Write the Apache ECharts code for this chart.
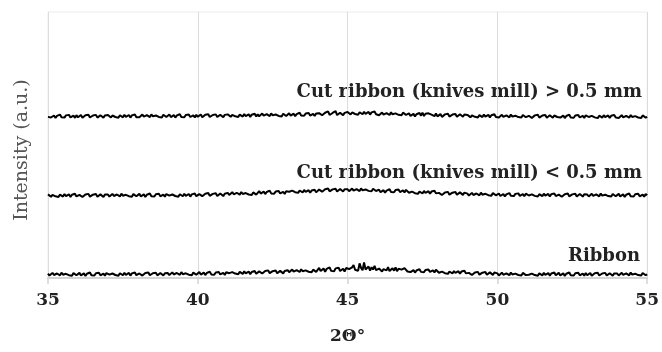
<!DOCTYPE html>
<html>
<head>
<meta charset="utf-8">
<script src="https://cdn.jsdelivr.net/npm/echarts@6/dist/echarts.min.js"></script>
<style>html,body{margin:0;padding:0;background:#fff}#c{width:662px;height:352px}</style>
</head>
<body>
<div id="c"></div>
<script>
// 2θ sampling (35 to 55, step 0.05)
const startAngle = 35, stepAngle = 0.05, nPoints = 401;
const xTicks = [35, 40, 45, 50, 55];
const seriesNames = ['Ribbon', 'Cut ribbon (knives mill) < 0.5 mm', 'Cut ribbon (knives mill) > 0.5 mm'];
const yTitle = 'Intensity (a.u.)';
const xTitle = '2\u0398\u00b0';

// Intensity (a.u., offset traces); one row per degree
const ribbon = [
4.4,2.4,3.9,5.1,3.0,2.2,4.5,3.7,2.6,5.3,3.3,2.1,4.2,4.7,2.8,4.0,2.3,4.9,3.5,2.7,
3.2,5.1,2.6,3.9,4.6,2.1,4.2,3.5,5.5,2.8,4.0,2.5,4.7,3.3,5.2,2.7,3.8,4.4,2.3,4.9,
4.9,3.4,2.5,4.5,5.4,3.0,4.0,2.3,4.7,4.2,2.7,5.2,3.2,3.7,5.0,2.4,4.6,3.1,5.5,2.8,
2.9,4.5,5.2,2.4,4.1,4.9,3.2,5.5,2.7,4.0,4.7,3.0,5.3,2.6,4.4,5.0,3.7,2.5,4.8,4.2,
4.9,2.9,4.4,5.6,3.5,2.7,5.0,4.2,3.1,5.8,3.8,2.6,4.7,5.2,3.3,4.5,2.8,5.4,4.0,3.2,
4.0,5.9,3.4,4.7,5.4,2.9,5.0,4.3,6.3,3.6,4.8,3.3,5.5,4.1,6.0,3.5,4.6,5.2,3.1,5.7,
6.3,4.8,3.9,5.9,6.8,4.4,5.4,3.7,6.1,5.6,4.1,6.6,4.6,5.1,6.4,3.8,6.0,4.5,6.9,4.2,
5.0,6.6,7.3,4.5,6.2,7.0,5.3,7.6,4.8,6.1,6.8,5.1,7.4,4.7,6.5,7.1,5.8,4.6,6.9,6.3,
7.8,5.8,7.3,8.5,6.4,5.6,7.9,7.1,6.0,8.7,6.7,5.5,7.6,8.1,6.2,7.4,5.7,8.3,6.9,6.1,
7.7,10.1,6.9,8.6,9.5,6.2,9.0,8.0,10.6,7.1,8.7,6.7,9.6,7.8,10.3,7.0,8.4,9.2,6.5,9.9,
11.3,8.9,7.4,10.6,13.0,8.2,9.8,7.1,14.5,10.1,7.7,15.5,8.5,9.3,11.4,7.3,10.8,8.4,12.2,7.9,
7.2,9.4,10.4,6.5,8.9,10.0,7.6,10.8,6.9,8.7,9.7,7.3,10.6,6.8,9.3,10.1,8.3,6.6,9.9,9.0,
6.5,8.4,5.9,7.2,7.9,5.4,7.5,6.8,8.8,6.1,7.3,5.8,8.0,6.6,8.5,6.0,7.1,7.7,5.6,8.2,
6.7,5.2,4.3,6.3,7.2,4.8,5.8,4.1,6.5,6.0,4.5,7.0,5.0,5.5,6.8,4.2,6.4,4.9,7.3,4.6,
3.5,5.1,5.8,3.0,4.7,5.5,3.8,6.1,3.3,4.6,5.3,3.6,5.9,3.2,5.0,5.6,4.3,3.1,5.4,4.8,
4.6,2.6,4.1,5.3,3.2,2.4,4.7,3.9,2.8,5.5,3.5,2.3,4.4,4.9,3.0,4.2,2.5,5.1,3.7,2.9,
4.8,3.3,2.4,4.4,5.3,2.9,3.9,2.2,4.6,4.1,2.6,5.1,3.1,3.6,4.9,2.3,4.5,3.0,5.4,2.7,
3.2,5.1,2.6,3.9,4.6,2.1,4.2,3.5,5.5,2.8,4.0,2.5,4.7,3.3,5.2,2.7,3.8,4.4,2.3,4.9,
2.7,4.3,5.0,2.2,3.9,4.7,3.0,5.3,2.5,3.8,4.5,2.8,5.1,2.4,4.2,4.8,3.5,2.3,4.6,4.0,
4.5,2.5,4.0,5.2,3.1,2.3,4.6,3.8,2.7,5.4,3.4,2.2,4.3,4.8,2.9,4.1,2.4,5.0,3.6,2.8,
3.6];

const cutFine = [
83.3,81.8,80.9,82.9,83.8,81.4,82.4,80.7,83.1,82.6,81.1,83.6,81.6,82.1,83.4,80.8,83.0,81.5,83.9,81.2,
81.2,82.8,83.5,80.7,82.4,83.2,81.5,83.8,81.0,82.3,83.0,81.3,83.6,80.9,82.7,83.3,82.0,80.8,83.1,82.5,
83.1,81.1,82.6,83.8,81.7,80.9,83.2,82.4,81.3,84.0,82.0,80.8,82.9,83.4,81.5,82.7,81.0,83.6,82.2,81.4,
81.9,83.8,81.3,82.6,83.3,80.8,82.9,82.2,84.2,81.5,82.7,81.2,83.4,82.0,83.9,81.4,82.5,83.1,81.0,83.6,
83.6,82.1,81.2,83.2,84.1,81.7,82.7,81.0,83.4,82.9,81.4,83.9,81.9,82.4,83.7,81.1,83.3,81.8,84.2,81.5,
82.0,83.6,84.3,81.5,83.2,84.0,82.3,84.6,81.8,83.1,83.8,82.1,84.4,81.7,83.5,84.1,82.8,81.6,83.9,83.3,
84.8,82.8,84.3,85.5,83.4,82.6,84.9,84.1,83.0,85.7,83.7,82.5,84.6,85.1,83.2,84.4,82.7,85.3,83.9,83.1,
84.7,86.6,84.1,85.4,86.1,83.6,85.7,85.0,87.0,84.3,85.5,84.0,86.2,84.8,86.7,84.2,85.3,85.9,83.8,86.4,
87.4,85.9,85.0,87.0,87.9,85.5,86.5,84.8,87.2,86.7,85.2,87.7,85.7,86.2,87.5,84.9,87.1,85.6,88.0,85.3,
86.5,88.1,88.8,86.0,87.7,88.5,86.8,89.1,86.3,87.6,88.3,86.6,88.9,86.2,88.0,88.6,87.3,86.1,88.4,87.8,
88.4,86.4,87.9,89.1,87.0,86.2,88.5,87.7,86.6,89.3,87.3,86.1,88.2,88.7,86.8,88.0,86.3,88.9,87.5,86.7,
86.1,88.0,85.5,86.8,87.5,85.0,87.1,86.4,88.4,85.7,86.9,85.4,87.6,86.2,88.1,85.6,86.7,87.3,85.2,87.8,
86.4,84.9,84.0,86.0,86.9,84.5,85.5,83.8,86.2,85.7,84.2,86.7,84.7,85.2,86.5,83.9,86.1,84.6,87.0,84.3,
83.2,84.8,85.5,82.7,84.4,85.2,83.5,85.8,83.0,84.3,85.0,83.3,85.6,82.9,84.7,85.3,84.0,82.8,85.1,84.5,
84.1,82.1,83.6,84.8,82.7,81.9,84.2,83.4,82.3,85.0,83.0,81.8,83.9,84.4,82.5,83.7,82.0,84.6,83.2,82.4,
82.3,84.2,81.7,83.0,83.7,81.2,83.3,82.6,84.6,81.9,83.1,81.6,83.8,82.4,84.3,81.8,82.9,83.5,81.4,84.0,
83.7,82.2,81.3,83.3,84.2,81.8,82.8,81.1,83.5,83.0,81.5,84.0,82.0,82.5,83.8,81.2,83.4,81.9,84.3,81.6,
81.5,83.1,83.8,81.0,82.7,83.5,81.8,84.1,81.3,82.6,83.3,81.6,83.9,81.2,83.0,83.6,82.3,81.1,83.4,82.8,
83.2,81.2,82.7,83.9,81.8,81.0,83.3,82.5,81.4,84.1,82.1,80.9,83.0,83.5,81.6,82.8,81.1,83.7,82.3,81.5,
81.9,83.8,81.3,82.6,83.3,80.8,82.9,82.2,84.2,81.5,82.7,81.2,83.4,82.0,83.9,81.4,82.5,83.1,81.0,83.6,
82.4];

const cutCoarse = [
160.5,162.4,159.9,161.2,161.9,159.4,161.5,160.8,162.8,160.1,161.3,159.8,162.0,160.6,162.5,160.0,161.1,161.7,159.6,162.2,
160.1,161.7,162.4,159.6,161.3,162.1,160.4,162.7,159.9,161.2,161.9,160.2,162.5,159.8,161.6,162.2,160.9,159.7,162.0,161.4,
162.3,160.8,159.9,161.9,162.8,160.4,161.4,159.7,162.1,161.6,160.1,162.6,160.6,161.1,162.4,159.8,162.0,160.5,162.9,160.2,
162.1,160.1,161.6,162.8,160.7,159.9,162.2,161.4,160.3,163.0,161.0,159.8,161.9,162.4,160.5,161.7,160.0,162.6,161.2,160.4,
160.9,162.8,160.3,161.6,162.3,159.8,161.9,161.2,163.2,160.5,161.7,160.2,162.4,161.0,162.9,160.4,161.5,162.1,160.0,162.6,
160.6,162.2,162.9,160.1,161.8,162.6,160.9,163.2,160.4,161.7,162.4,160.7,163.0,160.3,162.1,162.7,161.4,160.2,162.5,161.9,
163.0,161.5,160.6,162.6,163.5,161.1,162.1,160.4,162.8,162.3,160.8,163.3,161.3,161.8,163.1,160.5,162.7,161.2,163.6,160.9,
163.1,161.1,162.6,163.8,161.7,160.9,163.2,162.4,161.3,164.0,162.0,160.8,162.9,163.4,161.5,162.7,161.0,163.6,162.2,161.4,
162.3,164.2,161.7,163.0,163.7,161.2,163.3,162.6,164.6,161.9,163.1,161.6,163.8,162.4,164.3,161.8,162.9,163.5,161.4,164.0,
162.6,164.2,164.9,162.1,163.8,164.6,162.9,166.0,162.4,163.7,164.4,162.7,166.2,162.3,164.1,164.7,163.4,162.2,164.5,163.9,
165.3,167.0,162.9,164.9,166.5,163.4,164.4,162.7,165.1,164.6,163.1,165.6,163.6,164.1,165.4,162.8,165.0,163.5,165.9,163.2,
164.2,162.2,163.7,164.9,162.8,162.0,164.3,163.5,162.4,165.1,163.1,161.9,164.0,164.5,162.6,163.8,162.1,164.7,163.3,162.5,
162.1,164.0,161.5,162.8,163.5,161.0,163.1,162.4,164.4,161.7,164.8,161.4,163.6,162.2,164.1,164.6,162.7,163.3,161.2,163.8,
161.0,162.6,163.3,160.5,162.2,163.0,161.3,163.6,160.8,162.1,162.8,161.1,163.4,160.7,162.5,163.1,161.8,160.6,162.9,162.3,
162.5,161.0,160.1,162.1,163.0,160.6,161.6,159.9,162.3,161.8,160.3,162.8,160.8,161.3,162.6,160.0,162.2,160.7,163.1,160.4,
161.9,159.9,161.4,162.6,160.5,159.7,162.0,161.2,160.1,162.8,160.8,159.6,161.7,162.2,160.3,161.5,159.8,162.4,161.0,160.2,
160.0,161.6,162.3,159.5,161.2,162.0,160.3,162.6,159.8,161.1,161.8,160.1,162.4,159.7,161.5,162.1,160.8,159.6,161.9,161.3,
160.4,162.3,159.8,161.1,161.8,159.3,161.4,160.7,162.7,160.0,161.2,159.7,161.9,160.5,162.4,159.9,161.0,161.6,159.5,162.1,
161.9,160.4,159.5,161.5,162.4,160.0,161.0,159.3,161.7,161.2,159.7,162.2,160.2,160.7,162.0,159.4,161.6,160.1,162.5,159.8,
161.5,159.5,161.0,162.2,160.1,159.3,161.6,160.8,159.7,162.4,160.4,159.2,161.3,161.8,159.9,161.1,159.4,162.0,160.6,159.8,
160.6];

const twoTheta = [];
for (let i = 0; i < nPoints; i++) twoTheta.push(Math.round((startAngle + i * stepAngle) * 100) / 100);
const pairs = arr => arr.map((v, i) => [twoTheta[i], v]);

const serif = '"DejaVu Serif", "Liberation Serif", serif';
const chart = echarts.init(document.getElementById('c'), null, {renderer: 'canvas'});
const lineSeries = (name, data) => ({
  name, type: 'line', data: pairs(data), showSymbol: false, symbol: 'none',
  lineStyle: {color: '#000', width: 2}, animation: false, silent: true
});
chart.setOption({
  animation: false,
  grid: {left: 48, right: 12, top: 12, bottom: 74, show: true, borderColor: '#ececec', borderWidth: 1},
  xAxis: {
    type: 'value', min: 35, max: 55, interval: 5,
    name: xTitle, nameLocation: 'middle', nameGap: 50,
    nameTextStyle: {fontFamily: serif, fontWeight: 'bold', fontSize: 17, color: '#222'},
    axisLine: {show: true, lineStyle: {color: '#d4d4d4', width: 2}},
    axisTick: {show: true, length: 6, lineStyle: {color: '#d4d4d4', width: 1.5}},
    axisLabel: {margin: 14, fontFamily: serif, fontWeight: 'bold', fontSize: 17, color: '#222',
      formatter: v => xTicks.includes(v) ? String(v) : ''},
    splitLine: {show: true, lineStyle: {color: '#dcdcdc', width: 1}}
  },
  yAxis: {
    type: 'value', min: 0, max: 265,
    axisLine: {show: false}, axisTick: {show: false}, axisLabel: {show: false},
    splitLine: {show: false}
  },
  series: [lineSeries(seriesNames[0], ribbon), lineSeries(seriesNames[1], cutFine), lineSeries(seriesNames[2], cutCoarse)],
  graphic: [
    {type: 'text', x: 22, y: 150, rotation: Math.PI / 2,
      style: {text: yTitle, font: '19px ' + serif, fill: '#555', align: 'center', verticalAlign: 'middle'}},
    {type: 'text', right: 20, top: 83, style: {text: seriesNames[2], font: 'bold 18px ' + serif, fill: '#222'}},
    {type: 'text', right: 20, top: 164, style: {text: seriesNames[1], font: 'bold 18px ' + serif, fill: '#222'}},
    {type: 'text', right: 22, top: 247, style: {text: seriesNames[0], font: 'bold 18px ' + serif, fill: '#222'}}
  ]
});
</script>
</body>
</html>
